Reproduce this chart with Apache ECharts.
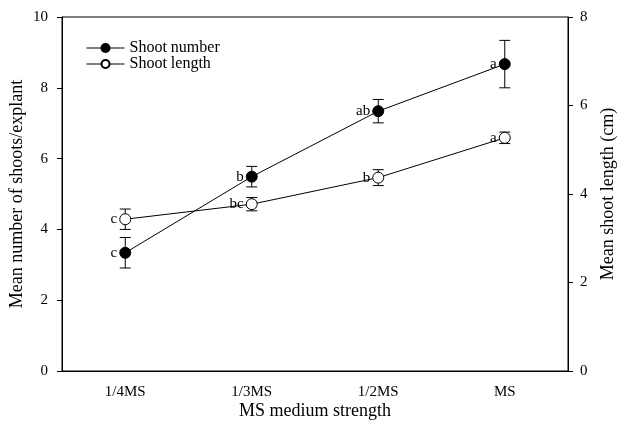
<!DOCTYPE html>
<html><head><meta charset="utf-8">
<script src="https://cdn.jsdelivr.net/npm/echarts@6/dist/echarts.min.js"></script>
<style>html,body{margin:0;padding:0;background:#fff}#c{width:620px;height:431px}</style>
</head><body><div id="c"></div>
<script>
var categories = ['1/4MS', '1/3MS', '1/2MS', 'MS'];
var shootNumber = [3.34, 5.49, 7.34, 8.67];
var shootNumberErr = [0.43, 0.29, 0.33, 0.67];
var shootNumberLetters = ['c', 'b', 'ab', 'a'];
var shootLength = [3.43, 3.77, 4.37, 5.27];
var shootLengthErr = [0.23, 0.15, 0.18, 0.13];
var shootLengthLetters = ['c', 'bc', 'b', 'a'];
var leftTicks = [0, 2, 4, 6, 8, 10];
var rightTicks = [0, 2, 4, 6, 8];

var FONT = 'Liberation Serif';

function errSeries(vals, errs, axisIdx) {
  return {
    type: 'custom', yAxisIndex: axisIdx, silent: true, z: 1,
    data: vals.map(function (v, i) { return [i, v - errs[i], v + errs[i]]; }),
    renderItem: function (params, api) {
      var lo = api.coord([api.value(0), api.value(1)]);
      var hi = api.coord([api.value(0), api.value(2)]);
      var w = 5.5;
      var st = { stroke: '#000', lineWidth: 1 };
      return { type: 'group', children: [
        { type: 'line', shape: { x1: hi[0], y1: hi[1], x2: lo[0], y2: lo[1] }, style: st },
        { type: 'line', shape: { x1: hi[0] - w, y1: hi[1], x2: hi[0] + w, y2: hi[1] }, style: st },
        { type: 'line', shape: { x1: lo[0] - w, y1: lo[1], x2: lo[0] + w, y2: lo[1] }, style: st }
      ]};
    }
  };
}

var chart = echarts.init(document.getElementById('c'));
chart.setOption({
  animation: false,
  backgroundColor: '#fff',
  textStyle: { fontFamily: FONT, color: '#000' },
  grid: { left: 62, right: 52, top: 17, bottom: 60, containLabel: false, outerBoundsMode: 'none',
    show: true, borderColor: '#000', borderWidth: 1, backgroundColor: 'transparent' },
  legend: {
    left: 81, top: 35, orient: 'vertical', itemGap: 0, itemWidth: 38, itemHeight: 10,
    lineStyle: { width: 1 },
    textStyle: { fontFamily: FONT, fontSize: 16, lineHeight: 16, color: '#000' },
    data: ['Shoot number', 'Shoot length']
  },
  xAxis: {
    type: 'category', data: categories, boundaryGap: true,
    name: 'MS medium strength', nameLocation: 'middle', nameGap: 31, nameMoveOverlap: false,
    nameTextStyle: { fontFamily: FONT, fontSize: 18, color: '#000' },
    axisLine: { lineStyle: { color: '#000', width: 1 } },
    axisTick: { alignWithLabel: true, length: 5, lineStyle: { color: '#000' } },
    axisLabel: { fontFamily: FONT, fontSize: 15, color: '#000', margin: 14 },
    splitLine: { show: false }
  },
  yAxis: [{
    type: 'value', min: 0, max: 10, interval: 2,
    name: 'Mean number of shoots/explant', nameLocation: 'middle', nameGap: 36, nameMoveOverlap: false,
    nameTextStyle: { fontFamily: FONT, fontSize: 18, color: '#000' },
    axisLine: { show: true, lineStyle: { color: '#000' } },
    axisTick: { show: true, length: 5, lineStyle: { color: '#000' } },
    axisLabel: { fontFamily: FONT, fontSize: 15, color: '#000', margin: 14,
      formatter: function (v) { return leftTicks.indexOf(v) >= 0 ? String(v) : ''; } },
    splitLine: { show: false }
  }, {
    type: 'value', min: 0, max: 8, interval: 2, position: 'right',
    name: 'Mean shoot length (cm)', nameLocation: 'middle', nameGap: 31, nameRotate: 90, nameMoveOverlap: false,
    nameTextStyle: { fontFamily: FONT, fontSize: 18, color: '#000' },
    axisLine: { show: true, lineStyle: { color: '#000' } },
    axisTick: { show: true, length: 5, lineStyle: { color: '#000' } },
    axisLabel: { fontFamily: FONT, fontSize: 15, color: '#000', margin: 12,
      formatter: function (v) { return rightTicks.indexOf(v) >= 0 ? String(v) : ''; } },
    splitLine: { show: false }
  }],
  series: [
    errSeries(shootNumber, shootNumberErr, 0),
    errSeries(shootLength, shootLengthErr, 1),
    {
      name: 'Shoot number', type: 'line', yAxisIndex: 0, z: 3,
      data: shootNumber, symbol: 'circle', symbolSize: 11,
      lineStyle: { color: '#000', width: 1 },
      itemStyle: { color: '#000', borderColor: '#000', borderWidth: 1 },
      label: { show: true, position: 'left', distance: 2, fontFamily: FONT, fontSize: 15, color: '#000',
        formatter: function (p) { return shootNumberLetters[p.dataIndex]; } }
    },
    {
      name: 'Shoot length', type: 'line', yAxisIndex: 1, z: 3,
      data: shootLength, symbol: 'circle', symbolSize: 11,
      lineStyle: { color: '#000', width: 1 },
      itemStyle: { color: '#fff', borderColor: '#000', borderWidth: 1 },
      label: { show: true, position: 'left', distance: 2, fontFamily: FONT, fontSize: 15, color: '#000',
        formatter: function (p) { return shootLengthLetters[p.dataIndex]; } }
    }
  ]
});
</script></body></html>
